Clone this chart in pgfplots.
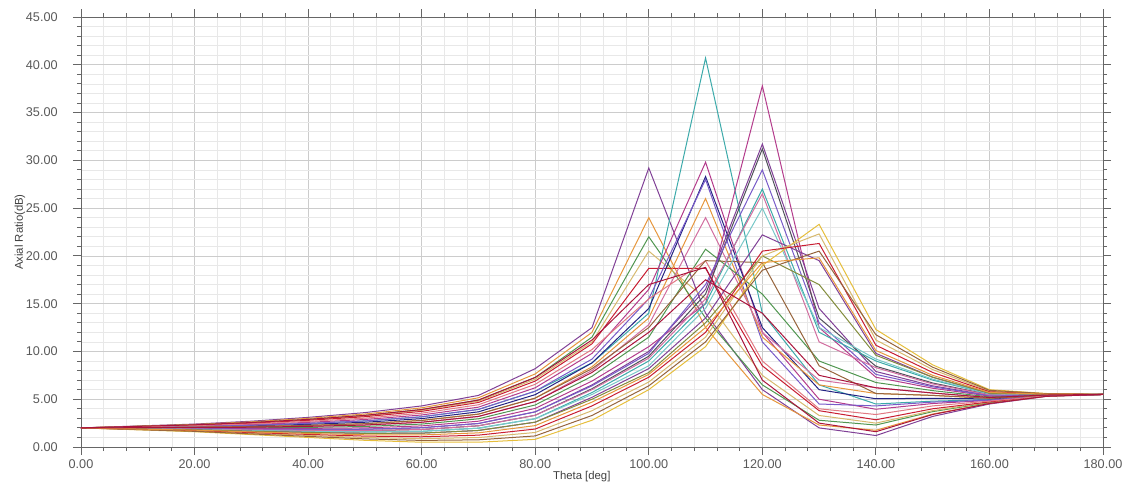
\documentclass[border=0pt]{standalone}
\usepackage{fontspec}
\setmainfont{Liberation Sans}
\usepackage{pgfplots}
\pgfplotsset{compat=1.18}

\definecolor{hpurple}{RGB}{128,64,150}
\definecolor{hpink}{RGB}{210,110,160}
\definecolor{hteal}{RGB}{60,170,170}
\definecolor{hnavy}{RGB}{35,35,130}
\definecolor{horange}{RGB}{230,150,60}
\definecolor{hred}{RGB}{200,30,50}
\definecolor{hgreen}{RGB}{80,150,80}
\definecolor{hbrown}{RGB}{150,100,60}
\definecolor{hmag}{RGB}{180,60,140}
\definecolor{hgray}{RGB}{80,80,90}
\definecolor{hlteal}{RGB}{120,200,200}
\definecolor{htan}{RGB}{215,185,110}
\definecolor{hviolet}{RGB}{120,90,200}
\definecolor{hrose}{RGB}{225,120,130}
\definecolor{hcrimson}{RGB}{170,20,60}
\definecolor{hyellow}{RGB}{230,190,60}
\definecolor{holive}{RGB}{130,140,60}

% axial ratio sweeps, theta 0..180 step 10
\pgfplotstableread{
th  c1   c2    c3    c4    c5    c6    c7    c8    c9    c10   c11   c12   c13   c14   c15
0   2.0  2.0   2.0   2.0   2.0   2.0   2.0   2.0   2.0   2.0   2.0   2.0   2.0   2.0   2.0
10  2.2  2.18  2.16  2.15  2.14  2.08  2.1   2.06  2.08  2.04  2.02  2.0   2.12  2.04  1.98
20  2.4  2.36  2.32  2.3   2.28  2.16  2.2   2.12  2.16  2.08  2.04  2.0   2.24  2.08  1.96
30  2.7  2.63  2.56  2.53  2.49  2.28  2.35  2.21  2.28  2.14  2.07  2.0   2.42  2.14  1.93
40  3.1  3.0   2.89  2.85  2.79  2.47  2.58  2.37  2.47  2.26  2.16  2.05  2.68  2.26  1.95
50  3.6  3.45  3.31  3.25  3.17  2.73  2.88  2.59  2.73  2.44  2.3   2.15  3.02  2.44  2.0
60  4.3  4.1   3.92  3.85  3.73  3.16  3.35  2.97  3.16  2.78  2.59  2.4   3.54  2.78  2.21
70  5.4  5.15  4.91  4.8   4.66  3.93  4.17  3.68  3.93  3.44  3.2   2.95  4.42  3.44  2.7
80  8.2  7.65  7.28  7.1   6.9   5.84  6.2   5.48  5.84  5.12  4.76  4.4   6.56  5.12  4.04
90  12.5 12.0  11.5  11.0  10.8  8.8   9.8   8.8   9.2   8.4   8.0   7.4   10.2  8.2   6.9
100 29.2 24.0  22.0  20.5  18.7  14.0  16.5  14.5  15.5  13.5  12.8  11.5  15.5  12.5  10.5
110 14.0 12.5  13.5  15.5  18.7  40.7  29.8  28.3  28.0  26.0  24.0  20.7  19.5  19.5  15.0
120 6.0  5.5   6.5   7.5   8.5   14.0  12.0  12.5  11.0  11.5  12.0  16.0  9.0   19.3  37.8
130 2.0  2.3   2.8   3.3   3.8   6.5   5.0   6.0   4.5   6.5   7.0   9.0   4.0   8.5   12.5
140 1.2  1.75  2.3   2.5   2.85  4.5   3.95  5.05  4.3   5.6   6.2   6.75  3.4   5.6   7.3
150 3.2  3.45  3.7   3.8   4.0   4.8   4.55  5.1   4.7   5.4   5.65  5.9   4.3   5.4   6.15
160 4.5  4.58  4.65  4.7   4.72  4.95  4.88  5.03  4.9   5.1   5.18  5.25  4.8   5.1   5.33
170 5.3  5.32  5.33  5.34  5.35  5.39  5.38  5.4   5.38  5.42  5.44  5.45  5.36  5.42  5.46
180 5.5  5.5   5.5   5.5   5.5   5.5   5.5   5.5   5.5   5.5   5.5   5.5   5.5   5.5   5.5
}\sweepA

\pgfplotstableread{
th  c16  c17   c18   c19   c20   c21   c22   c23   c24   c25   c26   c27   c28   c29   c30
0   2.0  2.0   2.0   2.0   2.0   2.0   2.0   2.0   2.0   2.0   2.0   2.0   2.0   2.0   2.0
10  1.96 1.94  1.96  1.92  1.94  1.92  1.9   1.9   1.8   1.84  1.86  1.82  1.88  2.02  2.16
20  1.92 1.88  1.92  1.84  1.88  1.84  1.8   1.8   1.6   1.68  1.72  1.64  1.76  2.04  2.32
30  1.86 1.79  1.86  1.72  1.79  1.72  1.65  1.65  1.3   1.44  1.51  1.37  1.58  2.07  2.56
40  1.84 1.74  1.84  1.63  1.74  1.63  1.53  1.53  1.0   1.21  1.32  1.11  1.42  2.16  2.89
50  1.86 1.72  1.86  1.57  1.72  1.57  1.43  1.43  0.7   0.99  1.14  0.85  1.28  2.3   3.31
60  2.02 1.83  2.02  1.64  1.83  1.64  1.45  1.45  0.5   0.88  1.07  0.69  1.26  2.59  3.92
70  2.46 2.22  2.46  1.97  2.22  1.97  1.73  1.73  0.5   0.99  1.24  0.75  1.48  3.2   4.91
80  3.68 3.32  3.68  2.96  3.32  2.96  2.6   2.6   0.8   1.52  1.88  1.16  2.24  4.76  7.28
90  6.5  6.1   6.4   5.7   6.0   5.5   5.2   5.0   2.8   3.8   4.3   3.3   4.7   7.8   11.2
100 10.0 9.5   9.8   9.0   9.3   8.5   8.2   7.8   6.0   6.8   7.3   6.4   7.6   12.0  17.0
110 16.5 16.0  17.0  15.0  15.5  14.5  13.5  13.0  10.5  11.5  12.0  11.0  12.5  17.5  18.8
120 31.7 31.2  29.0  27.0  26.5  25.0  22.2  20.0  19.0  20.0  20.5  18.5  19.3  14.0  7.0
130 14.5 13.5  13.0  12.0  11.0  12.5  19.5  17.0  23.3  22.3  21.3  20.5  19.8  7.5   2.5
140 7.9  8.45  7.6   9.0   8.3   9.2   9.8   9.6   12.3  11.2  10.65 11.75 10.1  6.2   1.6
150 6.4  6.7   6.3   7.0   6.6   7.1   7.3   7.3   8.6   8.1   7.8   8.35  7.5   5.65  3.4
160 5.4  5.48  5.38  5.55  5.46  5.56  5.63  5.63  6.0   5.85  5.78  5.93  5.7   5.18  4.55
170 5.48 5.5   5.47  5.51  5.5   5.51  5.52  5.52  5.6   5.57  5.56  5.58  5.54  5.44  5.3
180 5.5  5.5   5.5   5.5   5.5   5.5   5.5   5.5   5.5   5.5   5.5   5.5   5.5   5.5   5.5
}\sweepB

\begin{document}
\begin{tikzpicture}
\useasboundingbox (-60.75pt,-27pt) rectangle (785.25pt,335.25pt);
\begin{axis}[
  scale only axis, width=766.5pt, height=322.5pt,
  xmin=0, xmax=180, ymin=0, ymax=45,
  xtick={0,20,...,180}, ytick={0,5,...,45},
  minor x tick num=4, minor y tick num=4,
  grid=both,
  major grid style={draw=black!20, line width=0.5pt},
  minor grid style={draw=black!9, line width=0.5pt},
  axis line style={draw=black!60, line width=0.7pt},
  tick align=outside,
  major tick length=6pt, minor tick length=3pt,
  tick style={draw=black!60, line width=0.6pt},
  ticklabel style={font=\fontsize{9.5}{11}\selectfont, text=black!65},
  yticklabel style={xshift=-8pt},
  /pgf/number format/.cd, fixed, fixed zerofill, precision=2, assume math mode=true, /pgfplots/.cd,
  xlabel={Theta [deg]}, ylabel={Axial Ratio(dB)},
  label style={font=\fontsize{8.5}{10}\selectfont, text=black!75},
  xlabel style={at={(axis description cs:0.49,0)}, anchor=center, yshift=-22.5pt},
  ylabel style={at={(axis description cs:-0.0597,0.5)}, anchor=center, rotate=0},
  every axis plot/.append style={line width=0.75pt, mark=none},
]
\addplot[hpurple]  table[x=th,y=c1]  {\sweepA};
\addplot[horange]  table[x=th,y=c2]  {\sweepA};
\addplot[hgreen]   table[x=th,y=c3]  {\sweepA};
\addplot[htan]     table[x=th,y=c4]  {\sweepA};
\addplot[hred]     table[x=th,y=c5]  {\sweepA};
\addplot[hteal]    table[x=th,y=c6]  {\sweepA};
\addplot[hmag]     table[x=th,y=c7]  {\sweepA};
\addplot[hnavy]    table[x=th,y=c8]  {\sweepA};
\addplot[hviolet]  table[x=th,y=c9]  {\sweepA};
\addplot[horange]  table[x=th,y=c10] {\sweepA};
\addplot[hpink]    table[x=th,y=c11] {\sweepA};
\addplot[hgreen]   table[x=th,y=c12] {\sweepA};
\addplot[hrose]    table[x=th,y=c13] {\sweepA};
\addplot[hbrown]   table[x=th,y=c14] {\sweepA};
\addplot[hmag]     table[x=th,y=c15] {\sweepA};
\addplot[hpurple]  table[x=th,y=c16] {\sweepB};
\addplot[hgray]    table[x=th,y=c17] {\sweepB};
\addplot[hviolet]  table[x=th,y=c18] {\sweepB};
\addplot[hteal]    table[x=th,y=c19] {\sweepB};
\addplot[hpink]    table[x=th,y=c20] {\sweepB};
\addplot[hlteal]   table[x=th,y=c21] {\sweepB};
\addplot[hpurple]  table[x=th,y=c22] {\sweepB};
\addplot[holive]   table[x=th,y=c23] {\sweepB};
\addplot[hyellow]  table[x=th,y=c24] {\sweepB};
\addplot[htan]     table[x=th,y=c25] {\sweepB};
\addplot[hred]     table[x=th,y=c26] {\sweepB};
\addplot[hbrown]   table[x=th,y=c27] {\sweepB};
\addplot[horange]  table[x=th,y=c28] {\sweepB};
\addplot[hcrimson] table[x=th,y=c29] {\sweepB};
\addplot[hcrimson] table[x=th,y=c30] {\sweepB};
\end{axis}
\end{tikzpicture}
\end{document}
